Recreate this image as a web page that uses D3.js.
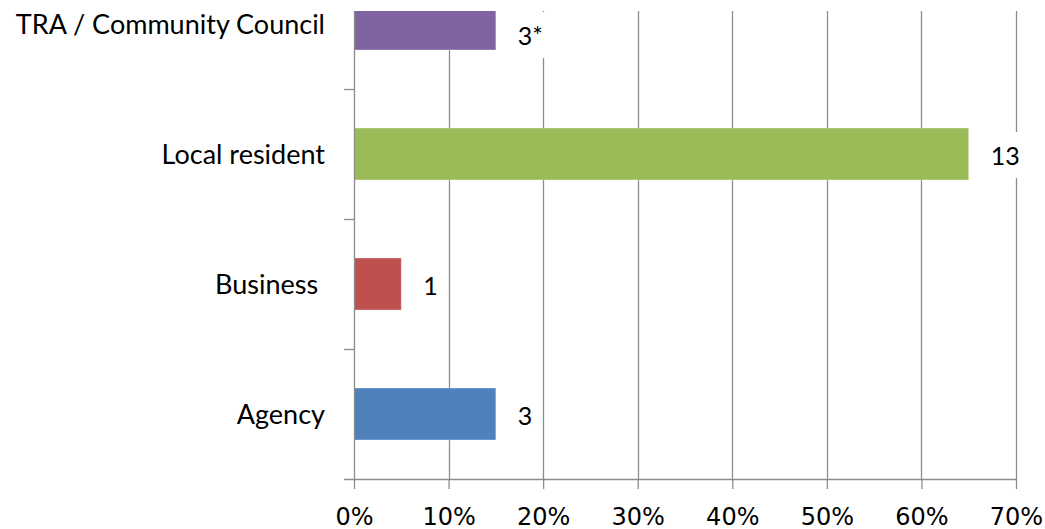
<!DOCTYPE html>
<html>
<head>
<meta charset="utf-8">
<script src="https://cdn.jsdelivr.net/npm/d3@7/dist/d3.min.js"></script>
<style>
  body { margin: 0; background: #fff; }
  svg { display: block; }
  .cat { font-family: Lato, "Open Sans", sans-serif; font-size: 27px; fill: #000; white-space: pre; }
  .val { font-family: Lato, "Open Sans", sans-serif; font-size: 25px; fill: #000; }
  .xaxis text { font-family: "DejaVu Sans", sans-serif; font-size: 24px; fill: #000; }
</style>
</head>
<body>
<svg id="chart" width="1045" height="529"></svg>
<script>
// categories top to bottom
var categories = ['TRA / Community Council', 'Local resident', 'Business ', 'Agency'];
var shares = [0.15, 0.65, 0.05, 0.15];
var counts = ['3*', '13', '1', '3'];
var colours = ['#8064A2', '#9BBB59', '#C0504D', '#4F81BD'];
var xTicks = [0, 0.1, 0.2, 0.3, 0.4, 0.5, 0.6, 0.7];

var ds = categories.map(function (c, i) {
    return { dim: c, metric: shares[i], label: counts[i], fill: colours[i] };
});

var svg = d3.select('#chart'),
    cs = {
        plot: { left: 354, right: 1016, top: 11, bottom: 479 },
        grid: '#8c8c8c'
    };

var x = d3.scaleLinear()
    .domain([0, 0.7])
    .range([cs.plot.left, cs.plot.right]);

// bands run past the top edge, the top bar is clipped by the plot area
var y = d3.scaleBand()
    .domain(categories)
    .range([cs.plot.bottom - 520, cs.plot.bottom])
    .paddingInner(0.6)
    .paddingOuter(0.3);

svg.append('clipPath').attr('id', 'plotClip')
    .append('rect')
    .attr('x', cs.plot.left).attr('y', cs.plot.top)
    .attr('width', cs.plot.right - cs.plot.left + 1)
    .attr('height', cs.plot.bottom - cs.plot.top);

// vertical gridlines
svg.append('g').selectAll('line')
    .data(xTicks.slice(1))
    .enter().append('line')
    .attr('x1', d => Math.round(x(d)) + 0.5).attr('x2', d => Math.round(x(d)) + 0.5)
    .attr('y1', cs.plot.top).attr('y2', cs.plot.bottom)
    .attr('stroke', cs.grid).attr('stroke-width', 1.3);

// bars
svg.append('g').attr('clip-path', 'url(#plotClip)')
    .selectAll('rect')
    .data(ds)
    .enter().append('rect')
    .attr('x', x(0))
    .attr('y', d => y(d.dim))
    .attr('width', d => x(d.metric) - x(0))
    .attr('height', y.bandwidth())
    .attr('fill', d => d.fill)
    .attr('stroke', 'rgba(255,255,255,0.35)')
    .attr('stroke-width', 1);

// data labels with white boxes
var labels = svg.append('g').selectAll('g')
    .data(ds)
    .enter().append('g')
    .attr('transform', d => {
        var cy = y(d.dim) + y.bandwidth() / 2;
        cy = Math.max(cy, cs.plot.top + 23);
        return 'translate(' + (x(d.metric) + 22) + ',' + (cy + 2) + ')';
    });

labels.append('rect')
    .attr('x', -6).attr('y', -24)
    .attr('height', 46)
    .attr('fill', '#fff');

labels.append('text')
    .attr('class', 'val')
    .attr('dy', '0.36em')
    .text(d => d.label);

labels.each(function () {
    var g = d3.select(this),
        w = g.select('text').node().getComputedTextLength();
    g.select('rect').attr('width', w + 12);
});

// x axis
var xAxis = d3.axisBottom(x)
    .tickValues(xTicks)
    .tickFormat(d3.format('.0%'))
    .tickSize(10)
    .tickPadding(19)
    .tickSizeOuter(0);

var gx = svg.append('g').attr('class', 'xaxis')
    .attr('transform', 'translate(0,' + cs.plot.bottom + ')')
    .call(xAxis);
gx.select('.domain').attr('stroke', cs.grid).attr('stroke-width', 1.3)
    .attr('d', 'M' + (cs.plot.left - 10) + ',0.5H' + (cs.plot.right + 1));
gx.selectAll('.tick line').attr('stroke', cs.grid).attr('stroke-width', 1.3);

// y axis line and ticks on band boundaries
var gy = svg.append('g');
gy.append('line')
    .attr('x1', cs.plot.left + 0.5).attr('x2', cs.plot.left + 0.5)
    .attr('y1', cs.plot.top).attr('y2', cs.plot.bottom)
    .attr('stroke', cs.grid).attr('stroke-width', 1.3);
gy.selectAll('.ytick')
    .data(categories)
    .enter().append('line')
    .attr('class', 'ytick')
    .attr('x1', cs.plot.left - 10).attr('x2', cs.plot.left)
    .attr('y1', d => Math.round(y(d) - y.step() * 0.3) + 0.5)
    .attr('y2', d => Math.round(y(d) - y.step() * 0.3) + 0.5)
    .attr('stroke', cs.grid).attr('stroke-width', 1.3)
    .filter(d => y(d) - y.step() * 0.3 < cs.plot.top).remove();

// category labels
svg.append('g').selectAll('text')
    .data(categories)
    .enter().append('text')
    .attr('class', 'cat')
    .attr('x', cs.plot.left - 29)
    .attr('y', d => y(d) + y.bandwidth() / 2)
    .attr('dy', '0.36em')
    .attr('text-anchor', 'end')
    .text(d => d);
</script>
</body>
</html>
